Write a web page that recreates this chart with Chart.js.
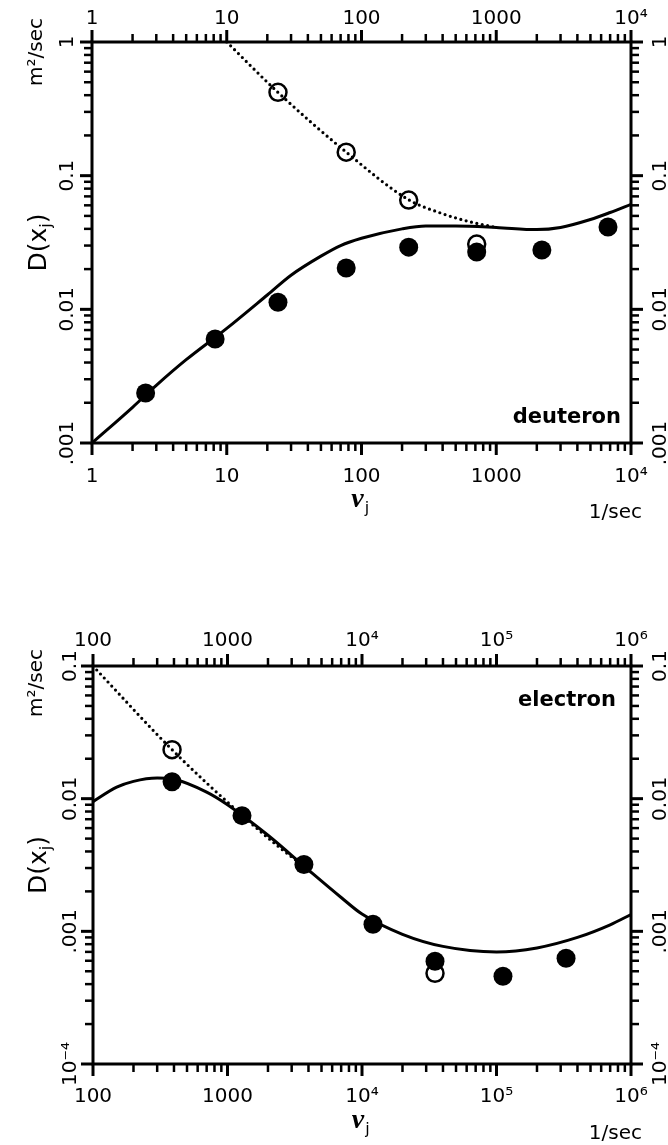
<!DOCTYPE html>
<html>
<head>
<meta charset="UTF-8">
<title>D(x_j)</title>
<script src="https://cdn.jsdelivr.net/npm/chart.js"></script>
<style>
  body { margin: 0; background: #fff; }
  .painel { position: absolute; left: 0; }
</style>
</head>
<body>
<canvas id="deut" class="painel" width="668" height="560" style="top:0"></canvas>
<canvas id="elec" class="painel" width="668" height="560" style="top:585px"></canvas>
<script>
// deuteron panel
const deutFreq = [2.5, 8.2, 24, 77, 224, 716, 2180, 6750];
const deutFilled = [0.00237, 0.006, 0.0113, 0.0204, 0.0292, 0.0268, 0.0278, 0.0413];
const deutOpenFreq = [24, 77, 224, 716];
const deutOpen = [0.42, 0.150, 0.0657, 0.0308];
const deutCurveFreq = [1, 2, 3, 5, 10, 20, 30, 50, 70, 100, 200, 300, 500, 1000, 2000, 3000, 5000, 7000, 10000];
const deutCurve = [0.001, 0.00185, 0.0027, 0.0042, 0.0072, 0.0128, 0.018, 0.025, 0.030, 0.034, 0.040, 0.042, 0.042, 0.041, 0.0395, 0.041, 0.047, 0.053, 0.061];
const deutDotFreq = [10, 24, 77, 224, 387, 647, 1000];
const deutDot = [1.0, 0.42, 0.15, 0.066, 0.0525, 0.045, 0.041];
const deutXTicks = [1, 10, 100, 1000, 10000];
const deutXLabels = ['1', '10', '100', '1000', '10⁴'];
const deutYTicks = [0.001, 0.01, 0.1, 1];
const deutYLabels = ['.001', '0.01', '0.1', '1'];

// electron panel
const elecFreq = [387, 1282, 3700, 12070, 34900, 111700, 329000];
const elecFilled = [0.0134, 0.00745, 0.00319, 0.00113, 0.000595, 0.000459, 0.000627];
const elecOpenFreq = [387, 34900];
const elecOpen = [0.0234, 0.000483];
const elecCurveFreq = [100, 150, 200, 300, 400, 700, 1000, 2000, 4000, 7000, 10000, 20000, 40000, 100000, 200000, 400000, 700000, 1000000];
const elecCurve = [0.0095, 0.0122, 0.0135, 0.0143, 0.0140, 0.0112, 0.0090, 0.0053, 0.0029, 0.0018, 0.00135, 0.00095, 0.00077, 0.00070, 0.00075, 0.00090, 0.00112, 0.00134];
const elecDotFreq = [100, 387, 1282, 2500, 3700];
const elecDot = [0.1, 0.0234, 0.0075, 0.0042, 0.0031];
const elecXTicks = [100, 1000, 10000, 100000, 1000000];
const elecXLabels = ['100', '1000', '10⁴', '10⁵', '10⁶'];
const elecYTicks = [0.0001, 0.001, 0.01, 0.1];
const elecYLabels = ['10⁻⁴', '.001', '0.01', '0.1'];

Chart.defaults.font.family = '"DejaVu Sans"';
Chart.defaults.color = '#000';

function pts(xs, ys) {
  return xs.map((x, i) => ({ x: x, y: ys[i] }));
}

function isDecade(v) {
  const l = Math.log10(v);
  return Math.abs(l - Math.round(l)) < 1e-9;
}

// decades plus 2..9 in between
function logTicks(min, max) {
  const out = [];
  for (let d = min; d <= max * 1.0001; d *= 10) {
    for (let k = 1; k <= 9; k++) {
      const v = d * k;
      if (v <= max * 1.0001) out.push({ value: v });
    }
  }
  return out;
}

const decor = {
  id: 'decor',
  afterDraw(chart, args, o) {
    const ctx = chart.ctx, a = chart.chartArea;
    ctx.save();
    ctx.strokeStyle = '#000';
    ctx.fillStyle = '#000';

    ctx.lineWidth = 3;
    ctx.strokeRect(a.left, a.top, a.right - a.left, a.bottom - a.top);

    ['x', 'x2', 'y', 'y2'].forEach(id => {
      const s = chart.scales[id];
      s.ticks.forEach(t => {
        const p = s.getPixelForValue(t.value);
        const major = isDecade(t.value);
        const len = major ? 12 : 8;
        ctx.lineWidth = major ? 3 : 2.5;
        ctx.beginPath();
        if (id === 'x') { ctx.moveTo(p, a.bottom); ctx.lineTo(p, a.bottom + len); }
        if (id === 'x2') { ctx.moveTo(p, a.top); ctx.lineTo(p, a.top - len); }
        if (id === 'y') { ctx.moveTo(a.left, p); ctx.lineTo(a.left - len, p); }
        if (id === 'y2') { ctx.moveTo(a.right, p); ctx.lineTo(a.right + len, p); }
        ctx.stroke();
      });
    });

    // rotated y tick labels, both sides
    ctx.font = '20px "DejaVu Sans"';
    ctx.textAlign = 'center';
    ctx.textBaseline = 'alphabetic';
    o.yTicks.forEach((v, i) => {
      const p = chart.scales.y.getPixelForValue(v);
      [a.left - o.gapL, a.right + o.gapR].forEach(x => {
        ctx.save();
        ctx.translate(x, p);
        ctx.rotate(-Math.PI / 2);
        ctx.fillText(o.yLabels[i], 0, 0);
        ctx.restore();
      });
    });

    // m2/sec
    ctx.save();
    ctx.translate(42, o.unitY);
    ctx.rotate(-Math.PI / 2);
    ctx.font = '20px "DejaVu Sans"';
    ctx.fillText('m²/sec', 0, 0);
    ctx.restore();

    // D(x_j)
    ctx.save();
    ctx.translate(46, (a.top + a.bottom) / 2);
    ctx.rotate(-Math.PI / 2);
    ctx.textAlign = 'left';
    const big = '25px "DejaVu Sans"', small = '16px "DejaVu Sans"';
    ctx.font = big; const w1 = ctx.measureText('D(x').width; const w3 = ctx.measureText(')').width;
    ctx.font = small; const w2 = ctx.measureText('j').width;
    let x0 = -(w1 + w2 + w3) / 2;
    ctx.font = big; ctx.fillText('D(x', x0, 0);
    ctx.font = small; ctx.fillText('j', x0 + w1, 5);
    ctx.font = big; ctx.fillText(')', x0 + w1 + w2, 0);
    ctx.restore();

    // nu_j
    const cx = (a.left + a.right) / 2;
    ctx.textAlign = 'left';
    ctx.font = 'bold italic 28px "Liberation Serif"';
    const wn = ctx.measureText('ν').width;
    ctx.fillText('ν', cx - wn / 2 - 4, a.bottom + 64);
    ctx.font = '16px "DejaVu Sans"';
    ctx.fillText('j', cx + wn / 2 - 3, a.bottom + 70);

    // 1/sec
    ctx.textAlign = 'right';
    ctx.font = '20px "DejaVu Sans"';
    ctx.fillText('1/sec', 642, a.bottom + 75);

    // panel name
    ctx.font = 'bold 21px "DejaVu Sans"';
    ctx.fillText(o.name, a.right + o.nameDx, o.nameTop ? a.top + o.nameDy : a.bottom + o.nameDy);
    ctx.restore();
  }
};

function panel(id, p) {
  const xAxis = (pos, h, pad) => ({
    type: 'logarithmic',
    position: pos,
    min: p.xMin, max: p.xMax,
    grid: { display: false, drawTicks: true, tickLength: 10 },
    border: { display: false },
    afterBuildTicks: s => { s.ticks = logTicks(p.xMin, p.xMax); },
    afterFit: s => { s.height = h; },
    ticks: {
      autoSkip: false, maxRotation: 0, minRotation: 0, padding: pad,
      font: { size: 20 }, color: '#000',
      callback: v => { const i = p.xTicks.findIndex(t => Math.abs(t - v) / t < 1e-6); return i >= 0 ? p.xLabels[i] : ''; }
    }
  });
  const yAxis = (pos, w) => ({
    type: 'logarithmic',
    position: pos,
    min: p.yMin, max: p.yMax,
    grid: { display: false },
    border: { display: false },
    afterBuildTicks: s => { s.ticks = logTicks(p.yMin, p.yMax); },
    afterFit: s => { s.width = w; },
    ticks: { display: false }
  });
  return new Chart(document.getElementById(id), {
    type: 'scatter',
    data: {
      datasets: [
        { data: pts(p.fx, p.fy), pointRadius: 9.5, pointBackgroundColor: '#000', pointBorderWidth: 0, order: 0 },
        { data: pts(p.ox, p.oy), pointRadius: 8.5, pointBackgroundColor: 'rgba(0,0,0,0)', pointBorderColor: '#000', pointBorderWidth: 2.5, order: 1 },
        { data: pts(p.cx, p.cy), showLine: true, pointRadius: 0, borderColor: '#000', borderWidth: 3, cubicInterpolationMode: 'monotone', order: 2 },
        { data: pts(p.dx, p.dy), showLine: true, pointRadius: 0, borderColor: '#000', borderWidth: 3.2, borderDash: [0, 5.5], borderCapStyle: 'round', cubicInterpolationMode: 'monotone', order: 3 }
      ]
    },
    options: {
      responsive: false,
      animation: false,
      events: [],
      layout: { padding: 0 },
      plugins: {
        legend: { display: false },
        tooltip: { enabled: false },
        decor: p.decor
      },
      scales: {
        x: xAxis('bottom', p.bottomH, p.padB),
        x2: xAxis('top', p.topH, p.padT),
        y: yAxis('left', p.leftW),
        y2: yAxis('right', p.rightW)
      }
    },
    plugins: [decor]
  });
}

panel('deut', {
  xMin: 1, xMax: 10000, yMin: 0.001, yMax: 1,
  xTicks: deutXTicks, xLabels: deutXLabels,
  fx: deutFreq, fy: deutFilled, ox: deutOpenFreq, oy: deutOpen,
  cx: deutCurveFreq, cy: deutCurve, dx: deutDotFreq, dy: deutDot,
  topH: 42, bottomH: 117, leftW: 92, rightW: 37, padB: 12, padT: 1,
  decor: { yTicks: deutYTicks, yLabels: deutYLabels, gapL: 19, gapR: 35, unitY: 52,
           name: 'deuteron', nameDx: -10, nameDy: -20, nameTop: false }
});

panel('elec', {
  xMin: 100, xMax: 1000000, yMin: 0.0001, yMax: 0.1,
  xTicks: elecXTicks, xLabels: elecXLabels,
  fx: elecFreq, fy: elecFilled, ox: elecOpenFreq, oy: elecOpen,
  cx: elecCurveFreq, cy: elecCurve, dx: elecDotFreq, dy: elecDot,
  topH: 81, bottomH: 81, leftW: 93, rightW: 37, padB: 11, padT: 3,
  decor: { yTicks: elecYTicks, yLabels: elecYLabels, gapL: 17, gapR: 35, unitY: 98,
           name: 'electron', nameDx: -15, nameDy: 40, nameTop: true }
});
</script>
</body>
</html>
